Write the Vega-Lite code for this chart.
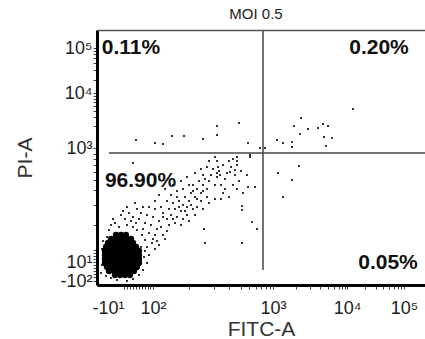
{
  "$schema": "https://vega.github.io/schema/vega-lite/v6.json",
  "width": 328,
  "height": 255,
  "autosize": {"type": "none"},
  "padding": {"left": 97, "top": 30, "right": 0, "bottom": 54},
  "background": "white",
  "title": {"text": "MOI 0.5", "fontSize": 15, "fontWeight": "normal", "font": "Liberation Sans", "color": "#222", "offset": 8, "dx": -5},
  "config": {
    "view": {"stroke": null},
    "axis": {"labelFont": "Liberation Sans", "titleFont": "Liberation Sans", "grid": false, "domainColor": "#000", "domainWidth": 3, "tickColor": "#444", "tickWidth": 1, "tickSize": 4, "labelColor": "#222", "titleColor": "#333", "titleFontWeight": "normal", "titleFontSize": 21, "labelFontSize": 18}
  },
  "datasets": {
    "core": [
      {"fitc": 18, "pi": 10}, {"fitc": 23, "pi": 10}, {"fitc": 28, "pi": 10}, {"fitc": 33, "pi": 10},
      {"fitc": 12, "pi": 14}, {"fitc": 17, "pi": 14}, {"fitc": 22, "pi": 14}, {"fitc": 27, "pi": 14}, {"fitc": 32, "pi": 14}, {"fitc": 37, "pi": 14},
      {"fitc": 10, "pi": 18}, {"fitc": 15, "pi": 18}, {"fitc": 20, "pi": 18}, {"fitc": 25, "pi": 18}, {"fitc": 30, "pi": 18}, {"fitc": 35, "pi": 18}, {"fitc": 40, "pi": 18},
      {"fitc": 8, "pi": 22}, {"fitc": 13, "pi": 22}, {"fitc": 18, "pi": 22}, {"fitc": 23, "pi": 22}, {"fitc": 28, "pi": 22}, {"fitc": 33, "pi": 22}, {"fitc": 38, "pi": 22}, {"fitc": 42, "pi": 22},
      {"fitc": 8, "pi": 26}, {"fitc": 13, "pi": 26}, {"fitc": 18, "pi": 26}, {"fitc": 23, "pi": 26}, {"fitc": 28, "pi": 26}, {"fitc": 33, "pi": 26}, {"fitc": 38, "pi": 26}, {"fitc": 42, "pi": 26},
      {"fitc": 8, "pi": 30}, {"fitc": 13, "pi": 30}, {"fitc": 18, "pi": 30}, {"fitc": 23, "pi": 30}, {"fitc": 28, "pi": 30}, {"fitc": 33, "pi": 30}, {"fitc": 38, "pi": 30}, {"fitc": 42, "pi": 30},
      {"fitc": 8, "pi": 34}, {"fitc": 13, "pi": 34}, {"fitc": 18, "pi": 34}, {"fitc": 23, "pi": 34}, {"fitc": 28, "pi": 34}, {"fitc": 33, "pi": 34}, {"fitc": 38, "pi": 34}, {"fitc": 42, "pi": 34},
      {"fitc": 9, "pi": 38}, {"fitc": 14, "pi": 38}, {"fitc": 19, "pi": 38}, {"fitc": 24, "pi": 38}, {"fitc": 29, "pi": 38}, {"fitc": 34, "pi": 38}, {"fitc": 39, "pi": 38},
      {"fitc": 11, "pi": 42}, {"fitc": 16, "pi": 42}, {"fitc": 21, "pi": 42}, {"fitc": 26, "pi": 42}, {"fitc": 31, "pi": 42}, {"fitc": 36, "pi": 42},
      {"fitc": 14, "pi": 46}, {"fitc": 19, "pi": 46}, {"fitc": 24, "pi": 46}, {"fitc": 29, "pi": 46}, {"fitc": 34, "pi": 46},
      {"fitc": 19, "pi": 50}, {"fitc": 24, "pi": 50}, {"fitc": 29, "pi": 50}
    ],
    "events": [
      {"fitc": 8, "pi": 40}, {"fitc": 10, "pi": 48}, {"fitc": 12, "pi": 55}, {"fitc": 6, "pi": 30}, {"fitc": 5, "pi": 20}, {"fitc": 4, "pi": 12},
      {"fitc": 14, "pi": 60}, {"fitc": 18, "pi": 62}, {"fitc": 22, "pi": 58}, {"fitc": 30, "pi": 60}, {"fitc": 36, "pi": 58}, {"fitc": 40, "pi": 55},
      {"fitc": 45, "pi": 50}, {"fitc": 48, "pi": 45}, {"fitc": 50, "pi": 38}, {"fitc": 52, "pi": 30}, {"fitc": 50, "pi": 22}, {"fitc": 46, "pi": 15},
      {"fitc": 42, "pi": 10}, {"fitc": 36, "pi": 6}, {"fitc": 30, "pi": 4}, {"fitc": 20, "pi": 5}, {"fitc": 14, "pi": 7}, {"fitc": 9, "pi": 9},
      {"fitc": 55, "pi": 42}, {"fitc": 58, "pi": 50}, {"fitc": 60, "pi": 56}, {"fitc": 54, "pi": 60}, {"fitc": 48, "pi": 62}, {"fitc": 42, "pi": 66},
      {"fitc": 36, "pi": 68}, {"fitc": 28, "pi": 66}, {"fitc": 24, "pi": 70}, {"fitc": 16, "pi": 66}, {"fitc": 32, "pi": 72}, {"fitc": 44, "pi": 72},
      {"fitc": 50, "pi": 70}, {"fitc": 56, "pi": 68}, {"fitc": 62, "pi": 64}, {"fitc": 64, "pi": 58}, {"fitc": 66, "pi": 50}, {"fitc": 60, "pi": 44},
      {"fitc": 58, "pi": 36}, {"fitc": 62, "pi": 40}, {"fitc": 68, "pi": 46}, {"fitc": 70, "pi": 54}, {"fitc": 72, "pi": 60}, {"fitc": 70, "pi": 66},
      {"fitc": 66, "pi": 72}, {"fitc": 58, "pi": 76}, {"fitc": 52, "pi": 78}, {"fitc": 46, "pi": 78}, {"fitc": 40, "pi": 76}, {"fitc": 38, "pi": 82},
      {"fitc": 30, "pi": 78}, {"fitc": 26, "pi": 74}, {"fitc": 46, "pi": 56}, {"fitc": 44, "pi": 38}, {"fitc": 47, "pi": 28}, {"fitc": 39, "pi": 62},
      {"fitc": 52, "pi": 52}, {"fitc": 56, "pi": 46}, {"fitc": 34, "pi": 64}, {"fitc": 6, "pi": 44}, {"fitc": 5, "pi": 36}, {"fitc": 48, "pi": 34},
      {"fitc": 74, "pi": 70}, {"fitc": 78, "pi": 76}, {"fitc": 80, "pi": 68}, {"fitc": 84, "pi": 74}, {"fitc": 76, "pi": 82}, {"fitc": 82, "pi": 84},
      {"fitc": 86, "pi": 80}, {"fitc": 90, "pi": 78}, {"fitc": 88, "pi": 88}, {"fitc": 92, "pi": 84}, {"fitc": 94, "pi": 92}, {"fitc": 98, "pi": 88},
      {"fitc": 100, "pi": 96}, {"fitc": 96, "pi": 100}, {"fitc": 104, "pi": 92}, {"fitc": 106, "pi": 100}, {"fitc": 102, "pi": 104}, {"fitc": 108, "pi": 106},
      {"fitc": 110, "pi": 96}, {"fitc": 112, "pi": 104}, {"fitc": 114, "pi": 110}, {"fitc": 118, "pi": 100}, {"fitc": 120, "pi": 108}, {"fitc": 116, "pi": 116},
      {"fitc": 122, "pi": 114}, {"fitc": 124, "pi": 100}, {"fitc": 126, "pi": 92}, {"fitc": 128, "pi": 106}, {"fitc": 110, "pi": 88}, {"fitc": 104, "pi": 84},
      {"fitc": 96, "pi": 76}, {"fitc": 90, "pi": 70}, {"fitc": 86, "pi": 66}, {"fitc": 78, "pi": 62}, {"fitc": 84, "pi": 60}, {"fitc": 92, "pi": 64},
      {"fitc": 98, "pi": 70}, {"fitc": 100, "pi": 78}, {"fitc": 106, "pi": 76}, {"fitc": 112, "pi": 82}, {"fitc": 118, "pi": 86}, {"fitc": 64, "pi": 78},
      {"fitc": 70, "pi": 84}, {"fitc": 74, "pi": 90}, {"fitc": 80, "pi": 94}, {"fitc": 86, "pi": 96}, {"fitc": 92, "pi": 100}, {"fitc": 58, "pi": 84},
      {"fitc": 62, "pi": 90}, {"fitc": 68, "pi": 96}, {"fitc": 76, "pi": 100}, {"fitc": 84, "pi": 104}, {"fitc": 90, "pi": 108}, {"fitc": 98, "pi": 112},
      {"fitc": 104, "pi": 116}, {"fitc": 110, "pi": 118}, {"fitc": 80, "pi": 88}, {"fitc": 72, "pi": 76}, {"fitc": 66, "pi": 68}, {"fitc": 76, "pi": 66},
      {"fitc": 82, "pi": 78}, {"fitc": 88, "pi": 74}, {"fitc": 94, "pi": 80}, {"fitc": 100, "pi": 86}, {"fitc": 96, "pi": 94}, {"fitc": 106, "pi": 94},
      {"fitc": 130, "pi": 112}, {"fitc": 134, "pi": 118}, {"fitc": 138, "pi": 110}, {"fitc": 126, "pi": 120}, {"fitc": 132, "pi": 124}, {"fitc": 140, "pi": 120},
      {"fitc": 136, "pi": 126}, {"fitc": 144, "pi": 114}, {"fitc": 120, "pi": 124}, {"fitc": 128, "pi": 96}, {"fitc": 136, "pi": 100}, {"fitc": 142, "pi": 104},
      {"fitc": 146, "pi": 92}, {"fitc": 150, "pi": 110}, {"fitc": 140, "pi": 96}, {"fitc": 124, "pi": 86}, {"fitc": 132, "pi": 88}, {"fitc": 112, "pi": 124},
      {"fitc": 118, "pi": 128}, {"fitc": 106, "pi": 110},
      {"fitc": 36, "pi": 122}, {"fitc": 133, "pi": 113}, {"fitc": 121, "pi": 118}, {"fitc": 120, "pi": 112}, {"fitc": 123, "pi": 110}, {"fitc": 138, "pi": 115},
      {"fitc": 140, "pi": 128}, {"fitc": 140, "pi": 124}, {"fitc": 153, "pi": 130}, {"fitc": 153, "pi": 128}, {"fitc": 158, "pi": 98}, {"fitc": 151, "pi": 98},
      {"fitc": 145, "pi": 79}, {"fitc": 145, "pi": 75}, {"fitc": 155, "pi": 63}, {"fitc": 160, "pi": 56}, {"fitc": 145, "pi": 42}, {"fitc": 108, "pi": 42},
      {"fitc": 107, "pi": 56},
      {"fitc": 39, "pi": 145}, {"fitc": 58, "pi": 142}, {"fitc": 66, "pi": 141}, {"fitc": 75, "pi": 149}, {"fitc": 87, "pi": 149}, {"fitc": 106, "pi": 146},
      {"fitc": 120, "pi": 159}, {"fitc": 120, "pi": 150}, {"fitc": 142, "pi": 162}, {"fitc": 151, "pi": 142}, {"fitc": 163, "pi": 137}, {"fitc": 168, "pi": 137},
      {"fitc": 180, "pi": 145}, {"fitc": 186, "pi": 142}, {"fitc": 195, "pi": 143}, {"fitc": 197, "pi": 159}, {"fitc": 204, "pi": 167}, {"fitc": 203, "pi": 151},
      {"fitc": 211, "pi": 156}, {"fitc": 221, "pi": 157}, {"fitc": 226, "pi": 161}, {"fitc": 231, "pi": 159}, {"fitc": 227, "pi": 148}, {"fitc": 235, "pi": 147},
      {"fitc": 229, "pi": 139}, {"fitc": 256, "pi": 176}, {"fitc": 195, "pi": 138},
      {"fitc": 181, "pi": 112}, {"fitc": 202, "pi": 119}, {"fitc": 195, "pi": 105}, {"fitc": 186, "pi": 88}
    ],
    "pct": [
      {"label": "0.11%", "fitc": 34, "pi": 237},
      {"label": "0.20%", "fitc": 282, "pi": 237},
      {"label": "96.90%", "fitc": 43.5, "pi": 104},
      {"label": "0.05%", "fitc": 291, "pi": 22}
    ]
  },
  "encoding": {
    "x": {"type": "quantitative", "scale": {"domain": [0, 328], "nice": false, "zero": false},
      "axis": {"title": "FITC-A", "labelOverlap": false, "labelFlush": false,
        "values": [27, 30, 33, 36, 39, 42, 45, 48, 51, 53, 56, 92, 117, 132, 144, 152, 159, 164, 169, 173, 176, 199, 213, 223, 231, 237, 242, 245, 248, 250, 268, 279, 286, 292, 297, 301, 304, 307],
        "labelExpr": "datum.value == 27 ? '-10¹' : datum.value == 56 ? '10²' : datum.value == 176 ? '10³' : datum.value == 250 ? '10⁴' : datum.value == 307 ? '10⁵' : ''",
        "labelAlign": {"condition": {"test": "datum.value == 27", "value": "right"}, "value": "center"},
        "labelDx": -7, "labelPadding": 10, "titlePadding": 1}},
    "y": {"type": "quantitative", "scale": {"domain": [0, 255], "nice": false, "zero": false},
      "axis": {"title": "PI-A", "labelOverlap": false, "labelFlush": false,
        "values": [4, 8, 11, 14, 17, 20, 23, 26, 29, 32, 35, 60, 80, 95, 105, 113, 120, 126, 131, 137, 159, 168, 174, 179, 183, 186, 189, 192, 205, 215, 222, 227, 231, 234, 237],
        "labelExpr": "datum.value == 4 ? '-10²' : datum.value == 23 ? '10¹' : datum.value == 137 ? '10³' : datum.value == 192 ? '10⁴' : datum.value == 237 ? '10⁵' : ''",
        "labelPadding": 1, "titlePadding": 24}}
  },
  "layer": [
    {
      "data": {"name": "core"},
      "mark": {"type": "point", "shape": "circle", "filled": true, "size": 40, "color": "#000", "opacity": 1},
      "encoding": {"x": {"field": "fitc"}, "y": {"field": "pi"}}
    },
    {
      "data": {"name": "events"},
      "mark": {"type": "point", "shape": "square", "filled": true, "size": 4, "color": "#000", "opacity": 0.8},
      "encoding": {"x": {"field": "fitc"}, "y": {"field": "pi"}}
    },
    {
      "data": {"values": [{}]},
      "mark": {"type": "rule", "color": "#555", "strokeWidth": 1.5},
      "encoding": {"x": {"datum": 0}, "x2": {"datum": 328}, "y": {"datum": 254.5}}
    },
    {
      "data": {"values": [{}]},
      "mark": {"type": "rule", "color": "#444", "strokeWidth": 1.5},
      "encoding": {"x": {"datum": 166}, "y": {"datum": 15}, "y2": {"datum": 254}}
    },
    {
      "data": {"values": [{}]},
      "mark": {"type": "rule", "color": "#444", "strokeWidth": 1.5},
      "encoding": {"y": {"datum": 132}, "x": {"datum": 12}, "x2": {"datum": 328}}
    },
    {
      "data": {"name": "pct"},
      "mark": {"type": "text", "font": "Liberation Sans", "fontSize": 21, "fontWeight": "bold", "color": "#111", "align": "center", "baseline": "middle"},
      "encoding": {"x": {"field": "fitc"}, "y": {"field": "pi"}, "text": {"field": "label"}}
    }
  ]
}
